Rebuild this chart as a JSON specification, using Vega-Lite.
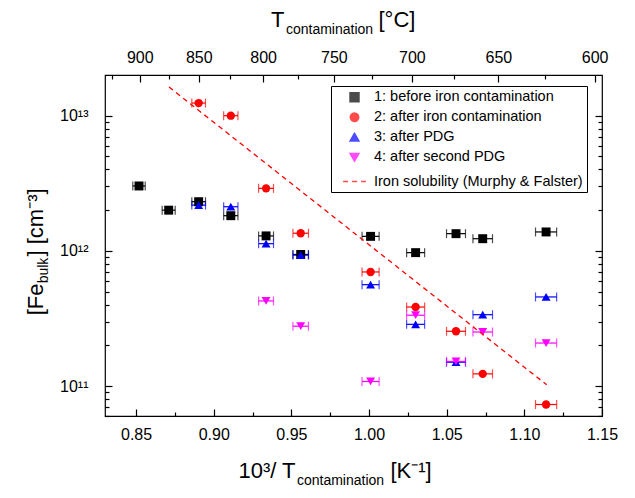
{
  "$schema": "https://vega.github.io/schema/vega-lite/v6.json",
  "width": 497,
  "height": 341,
  "autosize": {"type": "none"},
  "padding": {"left": 105, "top": 75, "right": 33, "bottom": 82},
  "background": "white",
  "config": {
    "view": {"stroke": "black", "strokeWidth": 1.2},
    "font": "Liberation Sans",
    "axis": {
      "labelFont": "Liberation Sans", "titleFont": "Liberation Sans",
      "labelColor": "black", "titleColor": "black", "tickColor": "black",
      "grid": false, "domain": false, "titleFontWeight": "normal",
      "labelFontSize": 16, "titleFontSize": 22, "tickWidth": 1.2,
      "labelFlush": false, "labelOverlap": false, "labelBound": false
    }
  },
  "datasets": {
    "meas": [
      {"series": "1: before iron contamination", "x": 0.8519, "xerr": 0.0040, "fe": 3.02e12},
      {"series": "1: before iron contamination", "x": 0.8710, "xerr": 0.0042, "fe": 2.00e12},
      {"series": "1: before iron contamination", "x": 0.8903, "xerr": 0.0044, "fe": 2.31e12},
      {"series": "1: before iron contamination", "x": 0.9110, "xerr": 0.0046, "fe": 1.82e12},
      {"series": "1: before iron contamination", "x": 0.9337, "xerr": 0.0048, "fe": 1.29e12},
      {"series": "1: before iron contamination", "x": 0.9560, "xerr": 0.0050, "fe": 9.4e11},
      {"series": "1: before iron contamination", "x": 1.0010, "xerr": 0.0055, "fe": 1.28e12},
      {"series": "1: before iron contamination", "x": 1.0300, "xerr": 0.0058, "fe": 9.7e11},
      {"series": "1: before iron contamination", "x": 1.0560, "xerr": 0.0061, "fe": 1.34e12},
      {"series": "1: before iron contamination", "x": 1.0732, "xerr": 0.0063, "fe": 1.23e12},
      {"series": "1: before iron contamination", "x": 1.1140, "xerr": 0.0068, "fe": 1.38e12},
      {"series": "2: after iron contamination", "x": 0.8903, "xerr": 0.0044, "fe": 1.24e13},
      {"series": "2: after iron contamination", "x": 0.9110, "xerr": 0.0046, "fe": 1.00e13},
      {"series": "2: after iron contamination", "x": 0.9337, "xerr": 0.0048, "fe": 2.90e12},
      {"series": "2: after iron contamination", "x": 0.9560, "xerr": 0.0050, "fe": 1.35e12},
      {"series": "2: after iron contamination", "x": 1.0010, "xerr": 0.0055, "fe": 6.98e11},
      {"series": "2: after iron contamination", "x": 1.0300, "xerr": 0.0058, "fe": 3.84e11},
      {"series": "2: after iron contamination", "x": 1.0560, "xerr": 0.0061, "fe": 2.54e11},
      {"series": "2: after iron contamination", "x": 1.0732, "xerr": 0.0063, "fe": 1.23e11},
      {"series": "2: after iron contamination", "x": 1.1140, "xerr": 0.0068, "fe": 7.3e10},
      {"series": "3: after PDG", "x": 0.8903, "xerr": 0.0044, "fe": 2.18e12},
      {"series": "3: after PDG", "x": 0.9110, "xerr": 0.0046, "fe": 2.12e12},
      {"series": "3: after PDG", "x": 0.9337, "xerr": 0.0048, "fe": 1.13e12},
      {"series": "3: after PDG", "x": 0.9560, "xerr": 0.0050, "fe": 9.3e11},
      {"series": "3: after PDG", "x": 1.0010, "xerr": 0.0055, "fe": 5.62e11},
      {"series": "3: after PDG", "x": 1.0300, "xerr": 0.0058, "fe": 2.86e11},
      {"series": "3: after PDG", "x": 1.0560, "xerr": 0.0061, "fe": 1.50e11},
      {"series": "3: after PDG", "x": 1.0732, "xerr": 0.0063, "fe": 3.37e11},
      {"series": "3: after PDG", "x": 1.1140, "xerr": 0.0068, "fe": 4.56e11},
      {"series": "4: after second PDG", "x": 0.9337, "xerr": 0.0048, "fe": 4.26e11},
      {"series": "4: after second PDG", "x": 0.9560, "xerr": 0.0050, "fe": 2.77e11},
      {"series": "4: after second PDG", "x": 1.0010, "xerr": 0.0055, "fe": 1.08e11},
      {"series": "4: after second PDG", "x": 1.0300, "xerr": 0.0058, "fe": 3.34e11},
      {"series": "4: after second PDG", "x": 1.0560, "xerr": 0.0061, "fe": 1.52e11},
      {"series": "4: after second PDG", "x": 1.0732, "xerr": 0.0063, "fe": 2.51e11},
      {"series": "4: after second PDG", "x": 1.1140, "xerr": 0.0068, "fe": 2.08e11}
    ],
    "sol": [
      {"series": "Iron solubility (Murphy & Falster)", "x": 0.8712, "fe": 1.63e13},
      {"series": "Iron solubility (Murphy & Falster)", "x": 1.1144, "fe": 1.02e11}
    ],
    "ref": [{"x": 1.0, "fe": 1e12, "TK": 1000}]
  },
  "layer": [
    {
      "encoding": {
        "x": {"field": "x", "type": "quantitative",
          "scale": {"domain": [0.83, 1.15], "nice": false, "zero": false},
          "axis": {"orient": "bottom", "values": [0.85, 0.9, 0.95, 1.0, 1.05, 1.1, 1.15], "format": ".2f",
            "tickSize": -7, "labelPadding": 17,
            "title": "10³/ T", "titleFontSize": 22, "titleAlign": "right", "titleBaseline": "alphabetic",
            "titleX": 190, "titleY": 61}},
        "y": {"field": "fe", "type": "quantitative",
          "scale": {"type": "log", "domain": [6e10, 2e13], "nice": false},
          "axis": {"orient": "left", "values": [1e11, 1e12, 1e13],
            "labelExpr": "datum.value > 5e12 ? '10¹³' : datum.value > 5e11 ? '10¹²' : '10¹¹'",
            "tickSize": -7, "labelPadding": 24,
            "title": "[Fe", "titleFontSize": 22, "titleAngle": 270, "titleAlign": "right", "titleBaseline": "alphabetic",
            "titleX": -63, "titleY": 208}}
      },
      "layer": [
        {
          "data": {"name": "meas"},
          "mark": {"type": "errorbar", "ticks": {"size": 9}, "thickness": 1.2},
          "encoding": {
            "xError": {"field": "xerr"},
            "color": {"field": "series", "type": "nominal"}
          }
        },
        {
          "data": {"name": "meas"},
          "mark": {"type": "point", "filled": true, "opacity": 1},
          "encoding": {
            "color": {"field": "series", "type": "nominal",
              "scale": {
                "domain": ["1: before iron contamination", "2: after iron contamination", "3: after PDG", "4: after second PDG", "Iron solubility (Murphy & Falster)"],
                "range": ["#000000", "#ff0000", "#0000ff", "#ff00ff", "#ff0000"]},
              "legend": {"orient": "none", "legendX": 226, "legendY": 11, "title": null,
                "strokeColor": "black", "fillColor": "white", "padding": 4,
                "labelFont": "Liberation Sans", "labelFontSize": 14.5, "labelColor": "black", "labelLimit": 400,
                "symbolOffset": 7, "labelOffset": 7, "rowPadding": 4,
                "encode": {"symbols": {"update": {
                  "stroke": {"signal": "datum.value === 'Iron solubility (Murphy & Falster)' ? '#ff0000' : 'transparent'"},
                  "strokeWidth": {"value": 1.5}
                }}}}},
            "shape": {"field": "series", "type": "nominal",
              "scale": {
                "domain": ["1: before iron contamination", "2: after iron contamination", "3: after PDG", "4: after second PDG", "Iron solubility (Murphy & Falster)"],
                "range": ["square", "circle", "triangle-up", "triangle-down", "stroke"]}},
            "size": {"field": "series", "type": "nominal",
              "scale": {"type": "ordinal",
                "domain": ["1: before iron contamination", "2: after iron contamination", "3: after PDG", "4: after second PDG", "Iron solubility (Murphy & Falster)"],
                "range": [80, 70, 80, 80, 520]}}
          }
        },
        {
          "data": {"name": "sol"},
          "mark": {"type": "line", "strokeWidth": 1.3},
          "encoding": {
            "color": {"field": "series", "type": "nominal"},
            "strokeDash": {"field": "series", "type": "nominal",
              "scale": {
                "domain": ["1: before iron contamination", "2: after iron contamination", "3: after PDG", "4: after second PDG", "Iron solubility (Murphy & Falster)"],
                "range": [[1, 0], [1, 0], [1, 0], [1, 0], [5, 4]]}}
          }
        }
      ]
    },
    {
      "data": {"name": "ref"},
      "mark": {"type": "point", "opacity": 0},
      "encoding": {
        "x": {"field": "x", "type": "quantitative",
          "scale": {"domain": [0.83, 1.15], "nice": false, "zero": false},
          "axis": {"orient": "bottom", "values": [0.875, 0.925, 0.975, 1.025, 1.075, 1.125],
            "labels": false, "tickSize": -4,
            "title": "contamination", "titleFontSize": 14, "titleAlign": "center", "titleBaseline": "alphabetic",
            "titleX": 235, "titleY": 68}},
        "y": {"field": "fe", "type": "quantitative",
          "scale": {"type": "log", "domain": [6e10, 2e13], "nice": false},
          "axis": {"orient": "left",
            "values": [6e10, 7e10, 8e10, 9e10, 2e11, 3e11, 4e11, 5e11, 6e11, 7e11, 8e11, 9e11, 2e12, 3e12, 4e12, 5e12, 6e12, 7e12, 8e12, 9e12],
            "labels": false, "tickSize": -4,
            "title": "bulk", "titleFontSize": 14, "titleAngle": 270, "titleAlign": "center", "titleBaseline": "alphabetic",
            "titleX": -58, "titleY": 195}}
      }
    },
    {
      "data": {"name": "ref"},
      "mark": {"type": "point", "opacity": 0},
      "encoding": {
        "x": {"field": "TK", "type": "quantitative",
          "scale": {"type": "pow", "exponent": -1, "domain": [1204.819, 869.565], "nice": false, "zero": false},
          "axis": {"orient": "top", "values": [1173.15, 1123.15, 1073.15, 1023.15, 973.15, 923.15, 873.15],
            "labelExpr": "format(datum.value - 273.15, '.0f')",
            "tickSize": -7, "labelPadding": 17,
            "title": "T", "titleFontSize": 22, "titleAlign": "right", "titleBaseline": "alphabetic",
            "titleX": 179, "titleY": -49}},
        "y": {"field": "fe", "type": "quantitative",
          "scale": {"type": "log", "domain": [6e10, 2e13], "nice": false},
          "axis": {"orient": "right", "values": [1e11, 1e12, 1e13], "labels": false, "tickSize": -7,
            "title": "] [cm⁻³]", "titleFontSize": 22, "titleAngle": 270, "titleAlign": "left", "titleBaseline": "alphabetic",
            "titleX": -560, "titleY": 181}}
      }
    },
    {
      "data": {"name": "ref"},
      "mark": {"type": "point", "opacity": 0},
      "encoding": {
        "x": {"field": "TK", "type": "quantitative",
          "scale": {"type": "pow", "exponent": -1, "domain": [1204.819, 869.565], "nice": false, "zero": false},
          "axis": {"orient": "top", "values": [1198.15, 1148.15, 1098.15, 1048.15, 998.15, 948.15, 898.15],
            "labels": false, "tickSize": -4,
            "title": "contamination", "titleFontSize": 14, "titleAlign": "center", "titleBaseline": "alphabetic",
            "titleX": 224, "titleY": -42}},
        "y": {"field": "fe", "type": "quantitative",
          "scale": {"type": "log", "domain": [6e10, 2e13], "nice": false},
          "axis": {"orient": "right",
            "values": [6e10, 7e10, 8e10, 9e10, 2e11, 3e11, 4e11, 5e11, 6e11, 7e11, 8e11, 9e11, 2e12, 3e12, 4e12, 5e12, 6e12, 7e12, 8e12, 9e12],
            "labels": false, "tickSize": -4,
            "title": "[K⁻¹]", "titleFontSize": 22, "titleAngle": 0, "titleAlign": "left", "titleBaseline": "alphabetic",
            "titleX": -212, "titleY": 402}}
      }
    },
    {
      "data": {"name": "ref"},
      "mark": {"type": "point", "opacity": 0},
      "encoding": {
        "x": {"field": "TK", "type": "quantitative",
          "scale": {"type": "pow", "exponent": -1, "domain": [1204.819, 869.565], "nice": false, "zero": false},
          "axis": {"orient": "top", "ticks": false, "labels": false,
            "title": "[°C]", "titleFontSize": 22, "titleAlign": "left", "titleBaseline": "alphabetic",
            "titleX": 273, "titleY": -49}},
        "y": {"field": "fe", "type": "quantitative",
          "scale": {"type": "log", "domain": [6e10, 2e13], "nice": false},
          "axis": null}
      }
    }
  ],
  "resolve": {"scale": {"x": "independent", "y": "independent"}, "axis": {"x": "independent", "y": "independent"}}
}
